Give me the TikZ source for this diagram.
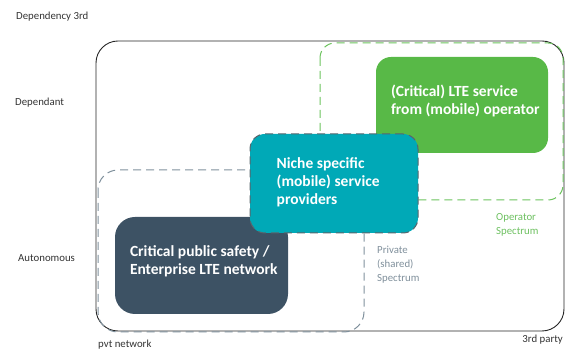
\documentclass[tikz,border=0pt]{standalone}
\usepackage{fontspec}
\setmainfont{Carlito}
\usetikzlibrary{positioning}

\definecolor{opgreen}{HTML}{58B947}
\definecolor{nicheteal}{HTML}{00A9B7}
\definecolor{pvtslate}{HTML}{3D5264}
\definecolor{dashgray}{HTML}{7F909C}
\definecolor{dashgreen}{HTML}{6CC35E}
\definecolor{labelgray}{HTML}{333333}
\definecolor{specgray}{HTML}{7F8F9B}
\definecolor{specgreen}{HTML}{6DC060}

\begin{document}
\begin{tikzpicture}[x=1pt,y=-1pt]
\tikzset{box/.style = {rounded corners=15pt, inner sep=0pt}}
\tikzset{boxtext/.style = {anchor=west, align=left, text=white, inner sep=0pt,
  font=\fontsize{15.5}{18}\selectfont\bfseries}}
\tikzset{axis/.style = {inner sep=0pt, text=labelgray, font=\fontsize{10.8}{13}\selectfont}}
\tikzset{spectrum/.style = {anchor=north west, align=left, inner sep=0pt,
  font=\fontsize{10.8}{14}\selectfont}}
\tikzset{region/.style = {line width=1pt, dash pattern=on 8pt off 5pt}}
\useasboundingbox (0,0) rectangle (566,352);
% regions
\draw[black!85, line width=0.9pt, rounded corners=22pt] (96,41) rectangle (564,331);
\draw[region, dashgray, rounded corners=20pt] (98,170) rectangle (364,332);
\draw[region, dashgreen, rounded corners=15pt] (320,43) rectangle (563,200);
% boxes
\node[box, fill=opgreen, minimum width=172pt, minimum height=96pt] (operator) at (462,105) {};
\node[box, fill=pvtslate, rounded corners=20pt, minimum width=173pt, minimum height=97pt] (pvt) at (201.5,265.5) {};
\node[box, fill=nicheteal, draw=dashgray!70!black, region,
  minimum width=168pt, minimum height=99pt] (niche) at (334,183.5) {};
% box texts
\node[boxtext] (operator text) at ([xshift=15pt, yshift=4pt]operator.west) {(Critical) LTE service\\from (mobile) operator};
\node[boxtext] (niche text) at ([xshift=27pt, yshift=1pt]niche.west) {Niche specific\\(mobile) service\\providers};
\node[boxtext] (pvt text) at ([xshift=15pt, yshift=4pt]pvt.west) {Critical public safety /\\Enterprise LTE network};
% axis labels
\node[axis, anchor=west] (dep3rd) at (16,17) {Dependency 3rd};
\node[axis, anchor=west] (dependant) at (15,103) {Dependant};
\node[axis, anchor=west] (autonomous) at (18,258) {Autonomous};
\node[axis, anchor=west] (pvtnet) at (98,345) {pvt network};
\node[axis, anchor=east] (thirdparty) at (563,340) {3rd party};
% spectrum labels
\node[spectrum, text=specgreen] (opspec) at (496,213) {Operator\\Spectrum};
\node[spectrum, text=specgray] (privspec) at (377,246) {Private\\(shared)\\Spectrum};
\end{tikzpicture}
\end{document}
